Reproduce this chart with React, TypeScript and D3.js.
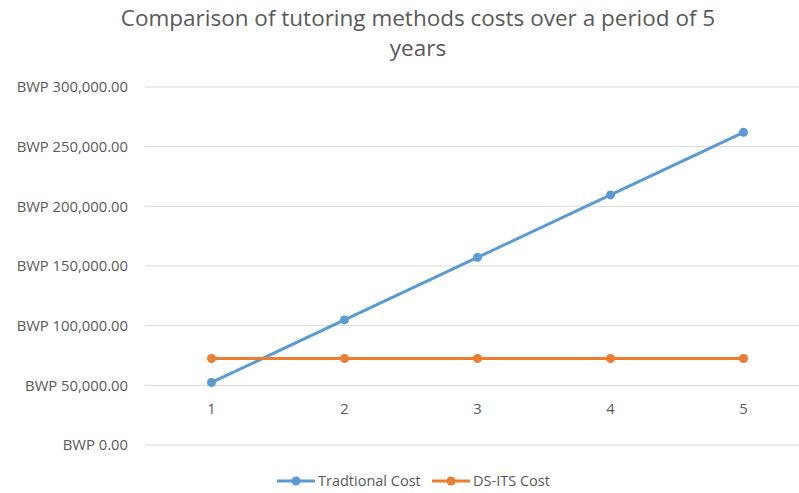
import * as d3 from "d3";

const WIDTH = 799;
const HEIGHT = 493;
const MARGIN = { top: 87, left: 145, right: -11, bottom: 48 };

const YEARS = ["1", "2", "3", "4", "5"];
const TRADITIONAL = [52400, 104800, 157200, 209600, 262000];
const DS_ITS = [72500, 72500, 72500, 72500, 72500];
const Y_TICKS = [0, 50000, 100000, 150000, 200000, 250000, 300000];

const SERIES = [
  { name: "Tradtional Cost", values: TRADITIONAL, color: "#5B9BD5" },
  { name: "DS-ITS Cost", values: DS_ITS, color: "#ED7D31" },
];

const FONT = "'Open Sans', sans-serif";

export default function App() {
  const x = d3
    .scaleBand()
    .domain(YEARS)
    .range([MARGIN.left, WIDTH - MARGIN.right]);
  const y = d3
    .scaleLinear()
    .domain([0, 300000])
    .range([HEIGHT - MARGIN.bottom, MARGIN.top]);
  const fmt = d3.format(",.2f");
  const cx = (d: string) => (x(d) ?? 0) + x.bandwidth() / 2;

  const line = d3
    .line<number>()
    .x((_, i) => cx(YEARS[i]))
    .y((v) => y(v));

  return (
    <svg
      width={WIDTH}
      height={HEIGHT}
      style={{ position: "absolute", left: 0, top: 0, background: "#fff" }}
      fontFamily={FONT}
    >
      <text x={418} y={26} textAnchor="middle" fontSize={22.5} fill="#595959">
        Comparison of tutoring methods costs over a period of 5
      </text>
      <text x={418} y={56} textAnchor="middle" fontSize={22.5} fill="#595959">
        years
      </text>

      {Y_TICKS.map((t) => (
        <g key={t}>
          <line
            x1={MARGIN.left}
            x2={WIDTH - MARGIN.right}
            y1={y(t)}
            y2={y(t)}
            stroke="#d9d9d9"
            strokeWidth={1}
          />
          <text
            x={128}
            y={y(t)}
            dy="0.35em"
            textAnchor="end"
            fontSize={14.8}
            fill="#595959"
          >
            BWP {fmt(t)}
          </text>
        </g>
      ))}

      {YEARS.map((d) => (
        <text
          key={d}
          x={cx(d)}
          y={y(50000) + 23}
          dy="0.35em"
          textAnchor="middle"
          fontSize={14.8}
          fill="#595959"
        >
          {d}
        </text>
      ))}

      {SERIES.map((s) => (
        <g key={s.name}>
          <path
            d={line(s.values) ?? ""}
            fill="none"
            stroke={s.color}
            strokeWidth={3}
            strokeLinejoin="round"
          />
          {s.values.map((v, i) => (
            <circle key={i} cx={cx(YEARS[i])} cy={y(v)} r={4.5} fill={s.color} />
          ))}
        </g>
      ))}

      {SERIES.map((s, i) => {
        const lx = i === 0 ? 277 : 432;
        const ly = 481;
        return (
          <g key={s.name}>
            <line x1={lx} x2={lx + 38} y1={ly} y2={ly} stroke={s.color} strokeWidth={3} />
            <circle cx={lx + 19} cy={ly} r={4.5} fill={s.color} />
            <text x={lx + 41} y={ly} dy="0.35em" fontSize={14.5} fill="#595959">
              {s.name}
            </text>
          </g>
        );
      })}
    </svg>
  );
}
